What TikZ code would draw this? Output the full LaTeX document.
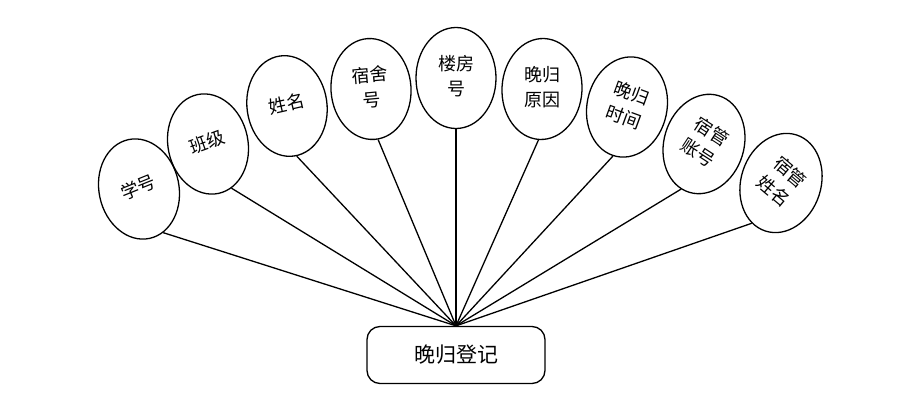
\documentclass[tikz,border=0pt]{standalone}
\usepackage{fontspec}
\setmainfont{Noto Sans CJK SC}
\usetikzlibrary{shapes.geometric}
\newcommand{\rtxt}[2]{\rotatebox{#1}{\begin{tabular}{@{}c@{}}#2\end{tabular}}}
\tikzset{
  attr/.style={draw, line width=1.3pt, ellipse, minimum width=80pt, minimum height=101pt, inner sep=0pt, font=\fontsize{18}{25}\selectfont},
  entity/.style={draw, line width=1.3pt, rounded corners=13pt, minimum width=178pt, minimum height=57pt, font=\fontsize{21}{24}\selectfont},
  link/.style={line width=1.3pt}
}
\begin{document}
\begin{tikzpicture}[x=1pt,y=1pt]
\useasboundingbox (0,0) rectangle (906,-401);
\node[entity] (reg) at (456,-355) {晚归登记};
\node[attr, rotate=12] (e1) at (139,-189) {\rtxt{10}{学号}};
\node[attr, rotate=12] (e2) at (208,-144) {\rtxt{8}{班级}};
\node[attr, rotate=8] (e3) at (287,-106) {\rtxt{5}{姓名}};
\node[attr, rotate=4] (e4) at (371,-89) {\rtxt{1}{宿舍\\号}};
\node[attr] (e5) at (456,-78) {\rtxt{0}{楼房\\号}};
\node[attr, rotate=-3] (e6) at (542,-89) {\rtxt{3}{晚归\\原因}};
\node[attr, rotate=-12] (e7) at (627,-107) {\rtxt{-8}{晚归\\时间}};
\node[attr, rotate=-17] (e8) at (704,-144) {\rtxt{-16}{宿管\\账号}};
\node[attr, rotate=-18] (e9) at (781,-183) {\rtxt{-22}{宿管\\姓名}};
\draw[link] (e1.-73) -- (reg.north);
\draw[link] (e2.-74) -- (reg.north);
\draw[link] (e3.-87) -- (reg.north);
\draw[link] (e4.-86) -- (reg.north);
\draw[link] (e5.south) -- (reg.north);
\draw[link] (e6.-91) -- (reg.north);
\draw[link] (e7.-94) -- (reg.north);
\draw[link] (e8.-100) -- (reg.north);
\draw[link] (e9.-108) -- (reg.north);
\end{tikzpicture}
\end{document}
